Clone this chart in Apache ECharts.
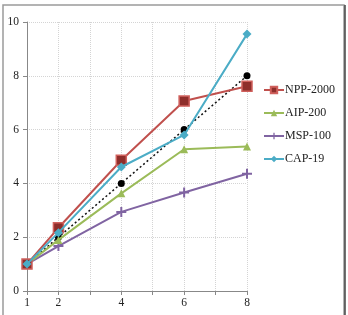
<!DOCTYPE html>
<html><head><meta charset="utf-8">
<script src="https://cdn.jsdelivr.net/npm/echarts@6/dist/echarts.min.js"></script>
<style>html,body{margin:0;padding:0;background:#fff}#c{width:348px;height:315px}</style>
</head><body><div id="c"></div>
<script>
const xValues = [1, 2, 4, 6, 8];
const xTickLabels = [1, 2, 4, 6, 8];
const npp2000 = [1, 2.35, 4.86, 7.06, 7.61];
const aip200 = [1, 1.9, 3.63, 5.27, 5.37];
const msp100 = [1, 1.67, 2.94, 3.66, 4.36];
const cap19 = [1, 2.17, 4.61, 5.8, 9.55];
const ideal = [1, 2, 4, 6, 8];
const names = ['NPP-2000', 'AIP-200', 'MSP-100', 'CAP-19'];

const pts = arr => xValues.map((x, i) => [x, arr[i]]);
const font = '"Liberation Serif", "Times New Roman", serif';
const chart = echarts.init(document.getElementById('c'), null, {renderer: 'canvas'});
chart.setOption({
  animation: false,
  graphic: [
    {type: 'rect', shape: {x: 3, y: 5, width: 341, height: 330}, style: {fill: 'none', stroke: '#9a9a9a', lineWidth: 1.5}, z: -1},
    {type: 'line', shape: {x1: 345, y1: 5, x2: 345, y2: 315}, style: {stroke: '#444', lineWidth: 1.5}, z: -1}
  ],
  grid: {left: 27, right: 101, top: 22, bottom: 24, containLabel: false},
  xAxis: {
    type: 'value', min: 1, max: 8, interval: 1,
    axisLine: {show: true, lineStyle: {color: '#888'}},
    axisTick: {show: true, length: 4, lineStyle: {color: '#888'}},
    axisLabel: {color: '#222', fontFamily: font, fontSize: 11.5, margin: 6,
      formatter: v => xTickLabels.includes(v) ? String(v) : ''},
    splitLine: {show: true, lineStyle: {color: '#d4d4d4', type: 'dotted'}}
  },
  yAxis: {
    type: 'value', min: 0, max: 10, interval: 2,
    axisLine: {show: true, lineStyle: {color: '#888'}},
    axisTick: {show: true, length: 4, lineStyle: {color: '#888'}},
    axisLabel: {color: '#222', fontFamily: font, fontSize: 11.5, margin: 8},
    splitLine: {show: true, lineStyle: {color: '#d4d4d4', type: 'dotted'}}
  },
  legend: {
    orient: 'vertical', left: 258, top: 79, itemGap: 11, itemWidth: 20, itemHeight: 8,
    data: names,
    textStyle: {fontFamily: font, fontSize: 12, color: '#222', padding: [0, 0, 0, -4]}
  },
  series: [
    {name: 'ideal', type: 'line', data: pts(ideal), symbol: 'circle', symbolSize: 7,
      lineStyle: {color: '#111', width: 1.5, type: [2, 2.5]}, itemStyle: {color: '#000'}, z: 1},
    {name: 'MSP-100', type: 'line', data: pts(msp100), symbol: 'path://M4,0H6V4H10V6H6V10H4V6H0V4H4Z', symbolSize: 10,
      lineStyle: {color: '#8064A2', width: 2}, itemStyle: {color: '#8064A2'}, z: 2},
    {name: 'AIP-200', type: 'line', data: pts(aip200), symbol: 'triangle', symbolSize: 8,
      lineStyle: {color: '#9BBB59', width: 2}, itemStyle: {color: '#9BBB59'}, z: 3},
    {name: 'NPP-2000', type: 'line', data: pts(npp2000), symbol: 'rect', symbolSize: 10,
      lineStyle: {color: '#C0504D', width: 2}, itemStyle: {color: '#8E2E2B', borderColor: '#D0605C', borderWidth: 1.5}, z: 4},
    {name: 'CAP-19', type: 'line', data: pts(cap19), symbol: 'diamond', symbolSize: 9,
      lineStyle: {color: '#4BACC6', width: 2}, itemStyle: {color: '#4BACC6'}, z: 5}
  ]
});
</script></body></html>
